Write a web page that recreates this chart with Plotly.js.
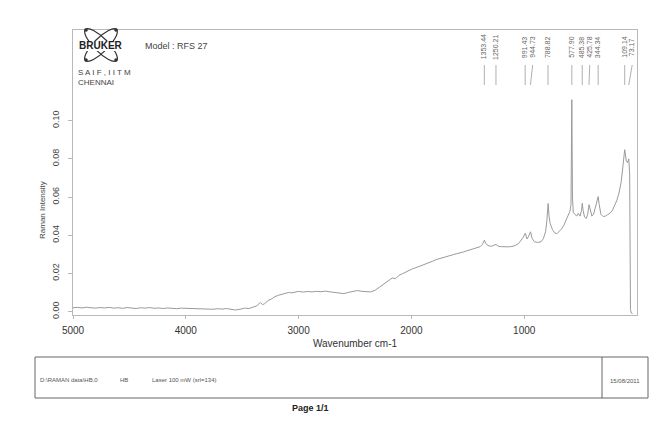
<!DOCTYPE html>
<html>
<head>
<meta charset="utf-8">
<script src="https://cdn.plot.ly/plotly-3.0.1.min.js"></script>
<style>html,body{margin:0;padding:0;background:#fff}#chart{width:650px;height:421px}</style>
</head>
<body>
<div id="chart"></div>
<script>
// Raman spectrum (wavenumber cm-1, intensity)
var wavenumber = [5000,4960,4920,4880,4840,4800,4760,4720,4680,4640,4600,4560,4520,4480,4440,4400,4360,4320,4280,4240,4200,4160,4120,4080,4040,4000,3960,3920,3880,3840,3800,3760,3720,3680,3640,3600,3560,3520,3480,3440,3400,3370,3340,3320,3300,3270,3240,3210,3180,3150,3120,3090,3060,3030,3000,2960,2920,2880,2840,2800,2760,2720,2680,2640,2600,2560,2520,2480,2440,2400,2360,2320,2290,2260,2230,2200,2170,2140,2110,2080,2050,2020,1990,1960,1930,1900,1870,1840,1810,1780,1750,1720,1690,1660,1630,1600,1570,1540,1510,1480,1450,1420,1390,1370,1353,1340,1320,1300,1280,1250,1230,1200,1170,1140,1110,1080,1050,1030,1010,991,975,960,944,930,910,880,850,830,810,800,788,780,770,750,730,710,690,670,650,630,610,595,585,578,572,565,550,535,520,505,492,485,478,465,450,437,425,415,400,385,370,357,344,335,320,300,280,260,240,220,200,180,160,140,125,109,95,85,73,65,58,50,40];
var intensity = [0.0020,0.0022,0.0019,0.0023,0.0020,0.0018,0.0021,0.0019,0.0022,0.0018,0.0020,0.0017,0.0021,0.0019,0.0016,0.0020,0.0018,0.0021,0.0017,0.0019,0.0016,0.0019,0.0017,0.0015,0.0018,0.0017,0.0019,0.0015,0.0017,0.0013,0.0015,0.0012,0.0015,0.0013,0.0016,0.0011,0.0008,0.0012,0.0018,0.0016,0.0024,0.0030,0.0048,0.0036,0.0042,0.0058,0.0066,0.0078,0.0085,0.0090,0.0097,0.0100,0.0098,0.0104,0.0106,0.0102,0.0105,0.0103,0.0106,0.0104,0.0107,0.0103,0.0100,0.0096,0.0094,0.0100,0.0104,0.0110,0.0106,0.0104,0.0103,0.0112,0.0125,0.0138,0.0150,0.0162,0.0176,0.0172,0.0190,0.0198,0.0208,0.0216,0.0224,0.0230,0.0236,0.0242,0.0250,0.0258,0.0264,0.0272,0.0278,0.0284,0.0288,0.0294,0.0298,0.0303,0.0306,0.0312,0.0318,0.0324,0.0330,0.0334,0.0340,0.0352,0.0374,0.0356,0.0346,0.0342,0.0344,0.0352,0.0342,0.0340,0.0338,0.0339,0.0341,0.0346,0.0356,0.0372,0.0388,0.0410,0.0380,0.0395,0.0418,0.0384,0.0366,0.0362,0.0366,0.0382,0.0420,0.0470,0.0566,0.0500,0.0462,0.0430,0.0412,0.0408,0.0420,0.0432,0.0450,0.0475,0.0500,0.0525,0.0560,0.1110,0.0600,0.0520,0.0510,0.0500,0.0515,0.0500,0.0530,0.0568,0.0530,0.0495,0.0488,0.0510,0.0560,0.0530,0.0500,0.0510,0.0540,0.0575,0.0602,0.0560,0.0510,0.0498,0.0500,0.0508,0.0515,0.0528,0.0550,0.0580,0.0620,0.0680,0.0760,0.0848,0.0790,0.0780,0.0800,0.0720,0.0010,-0.0008,-0.0010];

// Peak-pick labels
var peakPositions = [1353.44,1250.21,991.43,944.73,788.82,577.90,485.38,425.78,344.34,109.14,73.17];
var peakLabels = ["1353.44","1250.21","991.43","944.73","788.82","577.90","485.38","425.78","344.34","109.14","73.17"];

var xTicks = [5000,4000,3000,2000,1000];
var yTicks = [0.00,0.02,0.04,0.06,0.08,0.10];

// plot area in pixels
var L = 73, R = 637, T = 30, B = 315, W = 650, H = 421;
var X0 = 5000, X1 = 0;
function px(p){ return (p - L) / (R - L); }
function py(p){ return (B - p) / (B - T); }
function wn2px(w){ return L + (X0 - w) / (X0 - X1) * (R - L); }

var FONT = "Liberation Sans, Arial, sans-serif";
var annotations = [];
var shapes = [];

// peak labels with simple collision spreading
var labX = [];
peakPositions.forEach(function(w, i){
  var x = wn2px(w);
  if (i > 0 && x < labX[i-1] + 7.5) x = labX[i-1] + 7.5;
  labX.push(x);
});
peakPositions.forEach(function(w, i){
  annotations.push({xref:'paper', yref:'paper', x: px(labX[i]), y: py(47), text: peakLabels[i],
    textangle: -90, showarrow:false, font:{family:FONT, size:7, color:'#666'}, xanchor:'center', yanchor:'middle'});
  shapes.push({type:'line', xref:'paper', yref:'paper', x0: px(labX[i]), y0: py(65), x1: px(wn2px(w)), y1: py(85),
    line:{color:'#b0b0b0', width:1}});
});

// logo: two crossed ellipses
function ellipsePath(cx, cy, rx, ry, angDeg){
  var a = angDeg * Math.PI / 180, k = 0.5523;
  function P(u, v){
    var X = cx + u*Math.cos(a) - v*Math.sin(a);
    var Y = cy + u*Math.sin(a) + v*Math.cos(a);
    return px(X).toFixed(5) + ',' + py(Y).toFixed(5);
  }
  return 'M' + P(rx,0) +
    ' C' + P(rx, k*ry) + ' ' + P(k*rx, ry) + ' ' + P(0, ry) +
    ' C' + P(-k*rx, ry) + ' ' + P(-rx, k*ry) + ' ' + P(-rx, 0) +
    ' C' + P(-rx, -k*ry) + ' ' + P(-k*rx, -ry) + ' ' + P(0, -ry) +
    ' C' + P(k*rx, -ry) + ' ' + P(rx, -k*ry) + ' ' + P(rx, 0) + ' Z';
}
shapes.push({type:'path', xref:'paper', yref:'paper', path: ellipsePath(101, 45, 22, 7, 45), line:{color:'#333', width:1.2}});
shapes.push({type:'path', xref:'paper', yref:'paper', path: ellipsePath(101, 45, 22, 7, -45), line:{color:'#333', width:1.2}});
[[86,30],[116,60],[116,30],[86,60]].forEach(function(d){
  shapes.push({type:'circle', xref:'paper', yref:'paper', x0:px(d[0]-1.8), x1:px(d[0]+1.8), y0:py(d[1]+1.8), y1:py(d[1]-1.8),
    fillcolor:'#333', line:{width:0}});
});
shapes.push({type:'rect', xref:'paper', yref:'paper', x0:px(76), x1:px(126), y0:py(51), y1:py(41), fillcolor:'#fff', line:{width:0}});

// bottom info box
shapes.push({type:'rect', xref:'paper', yref:'paper', x0:px(35), x1:px(648), y0:py(398), y1:py(357), line:{color:'#666', width:1}});
shapes.push({type:'line', xref:'paper', yref:'paper', x0:px(602), x1:px(602), y0:py(398), y1:py(357), line:{color:'#666', width:1}});

function txt(x, y, s, size, anchor, color, extra){
  var a = {xref:'paper', yref:'paper', x:px(x), y:py(y), text:s, showarrow:false,
    font:{family:FONT, size:size, color:color||'#333'}, xanchor:anchor||'left', yanchor:'middle'};
  if (extra) for (var k in extra) a[k] = extra[k];
  annotations.push(a);
}
txt(101, 46, '<b>BRUKER</b>', 10, 'center', '#222');
txt(143, 46, 'Model : RFS 27', 9, 'left', '#444');
txt(76, 72, 'S A I F , I I T M', 8, 'left', '#444');
txt(76, 82, 'CHENNAI', 8, 'left', '#444');
txt(42, 210, 'Raman Intensity', 8, 'center', '#444', {textangle:-90});
txt(38, 380, 'D:\\RAMAN data\\HB.0', 6, 'left', '#555');
txt(118, 380, 'HB', 6, 'left', '#555');
txt(150, 380, 'Laser 100 mW (srl=134)', 6, 'left', '#555');
txt(625, 381, '15/08/2011', 6, 'center', '#555');
txt(310, 408, '<b>Page 1/1</b>', 9, 'center', '#222');

var trace = {x: wavenumber, y: intensity, type:'scatter', mode:'lines',
  line:{color:'#9a9a9a', width:1}, hoverinfo:'skip'};

var layout = {
  width: W, height: H,
  margin: {l: L, r: W - R, t: T, b: H - B, pad: 0},
  paper_bgcolor: '#ffffff', plot_bgcolor: '#ffffff',
  showlegend: false,
  xaxis: {range:[X0, X1], tickvals:xTicks, ticktext:xTicks.map(String), showgrid:false, zeroline:false,
    showline:true, mirror:true, linecolor:'#b8b8b8', linewidth:1,
    ticks:'outside', ticklen:3, tickcolor:'#b8b8b8', ticklabelstandoff:3,
    tickfont:{family:FONT, size:10, color:'#333'},
    title:{text:'Wavenumber cm-1', font:{family:FONT, size:10, color:'#333'}, standoff:4}},
  yaxis: {range:[-0.0018, 0.1475], tickvals:yTicks, tickformat:'.2f', showgrid:false, zeroline:false,
    showline:true, mirror:true, linecolor:'#b8b8b8', linewidth:1,
    ticks:'outside', ticklen:4, tickcolor:'#b8b8b8', tickangle:-90,
    tickfont:{family:FONT, size:9, color:'#444'}, ticklabelstandoff:5},
  annotations: annotations,
  shapes: shapes
};

Plotly.newPlot('chart', [trace], layout, {staticPlot:true, displayModeBar:false});
</script>
</body>
</html>
